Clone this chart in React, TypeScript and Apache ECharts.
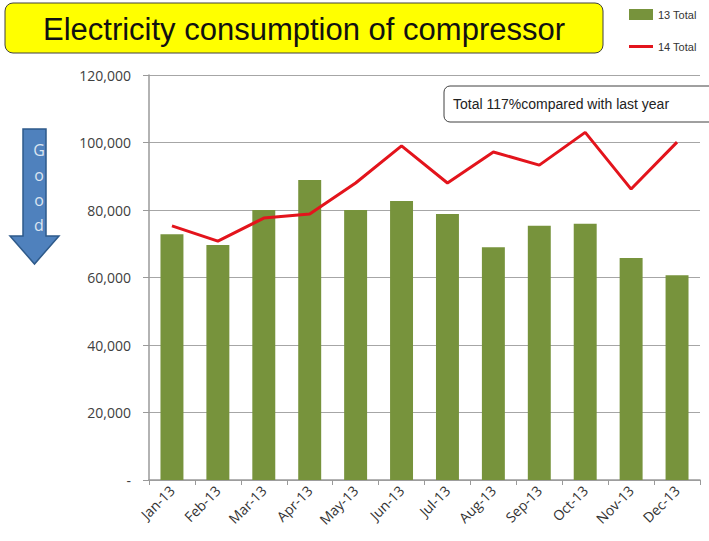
import React, { useEffect, useRef } from "react";
import * as echarts from "echarts";

const categories = ["Jan-13", "Feb-13", "Mar-13", "Apr-13", "May-13", "Jun-13", "Jul-13", "Aug-13", "Sep-13", "Oct-13", "Nov-13", "Dec-13"];
const total13 = [72800, 69600, 80000, 88900, 80000, 82700, 78800, 69000, 75300, 75900, 65800, 60700];
const total14 = [75300, 70800, 77600, 78800, 88000, 99000, 88000, 97200, 93300, 103000, 86200, 100100];
const yTicks = { min: 0, max: 120000, interval: 20000 };
const titleText = "Electricity consumption of compressor";
const noteText = "Total 117%compared with last year";
const arrowLetters = ["G", "o", "o", "d"];

export default function App() {
  const ref = useRef<HTMLDivElement>(null);
  useEffect(() => {
    if (!ref.current) return;
    const chart = echarts.init(ref.current, undefined, { renderer: "svg" });
    const letterY = [150, 175, 200, 225];
    chart.setOption({
      animation: false,
      backgroundColor: "#ffffff",
      grid: { left: 149, right: 9, top: 75, bottom: 61, containLabel: false },
      legend: {
        orient: "vertical",
        left: 624,
        top: 4,
        itemGap: 21,
        itemWidth: 24,
        itemHeight: 11,
        textStyle: { fontSize: 11, color: "#333", fontFamily: "Liberation Sans Narrow, Liberation Sans, sans-serif" },
        data: [
          { name: "13 Total", icon: "rect" },
          { name: "14 Total", icon: "path://M0,0 L24,0 L24,3 L0,3 Z" },
        ],
      },
      xAxis: {
        type: "category",
        data: categories,
        axisLine: { lineStyle: { color: "#9a9a9a", width: 1.5 } },
        axisTick: { show: true, length: 5, lineStyle: { color: "#9a9a9a" } },
        axisLabel: { rotate: 45, fontSize: 14, color: "#333", margin: 8, fontFamily: "Open Sans, sans-serif", interval: 0 },
      },
      yAxis: {
        type: "value",
        min: yTicks.min,
        max: yTicks.max,
        interval: yTicks.interval,
        axisLine: { show: true, lineStyle: { color: "#9a9a9a", width: 1.5 } },
        axisTick: { show: true, length: 6, lineStyle: { color: "#9a9a9a" } },
        splitLine: { lineStyle: { color: "#a6a6a6", width: 1 } },
        axisLabel: {
          fontSize: 14,
          color: "#404040",
          margin: 18,
          fontFamily: "Open Sans, sans-serif",
          formatter: (v: number) => (v === 0 ? "-" : v.toLocaleString("en-US")),
        },
      },
      series: [
        {
          name: "13 Total",
          type: "bar",
          data: total13,
          barWidth: "50%",
          itemStyle: { color: "#77933c" },
        },
        {
          name: "14 Total",
          type: "line",
          data: total14,
          symbol: "none",
          lineStyle: { color: "#e3141c", width: 3 },
          itemStyle: { color: "#e3141c" },
        },
      ],
      graphic: [
        {
          type: "rect",
          shape: { x: 5, y: 3, width: 598, height: 50, r: 8 },
          style: { fill: "#ffff00", stroke: "#404040", lineWidth: 1 },
        },
        {
          type: "text",
          x: 304,
          y: 29,
          style: {
            text: titleText,
            fontSize: 31,
            fontFamily: "Liberation Sans, Arial, sans-serif",
            fill: "#111",
            align: "center",
            verticalAlign: "middle",
          },
        },
        {
          type: "rect",
          shape: { x: 444, y: 86, width: 280, height: 36, r: 6 },
          style: { fill: "#ffffff", stroke: "#404040", lineWidth: 1 },
          z: 10,
        },
        {
          type: "text",
          x: 453,
          y: 104,
          z: 11,
          style: {
            text: noteText,
            fontSize: 14,
            fontFamily: "Liberation Sans, Arial, sans-serif",
            fill: "#222",
            verticalAlign: "middle",
          },
        },
        {
          type: "polygon",
          shape: {
            points: [
              [23, 129],
              [46, 129],
              [46, 236],
              [59, 236],
              [34.5, 264],
              [10, 236],
              [23, 236],
            ],
          },
          style: { fill: "#4f81bd", stroke: "#2e5a8a", lineWidth: 1.5 },
        },
        ...arrowLetters.map((ch, i) => ({
          type: "text",
          x: 39,
          y: letterY[i],
          style: {
            text: ch,
            fontSize: 16,
            fontFamily: "Open Sans, sans-serif",
            fill: "#dbe5f1",
            align: "center",
            verticalAlign: "middle",
          },
        })),
      ],
    });
    return () => chart.dispose();
  }, []);
  return <div ref={ref} style={{ width: 709, height: 541, position: "absolute", left: 0, top: 0 }} />;
}
